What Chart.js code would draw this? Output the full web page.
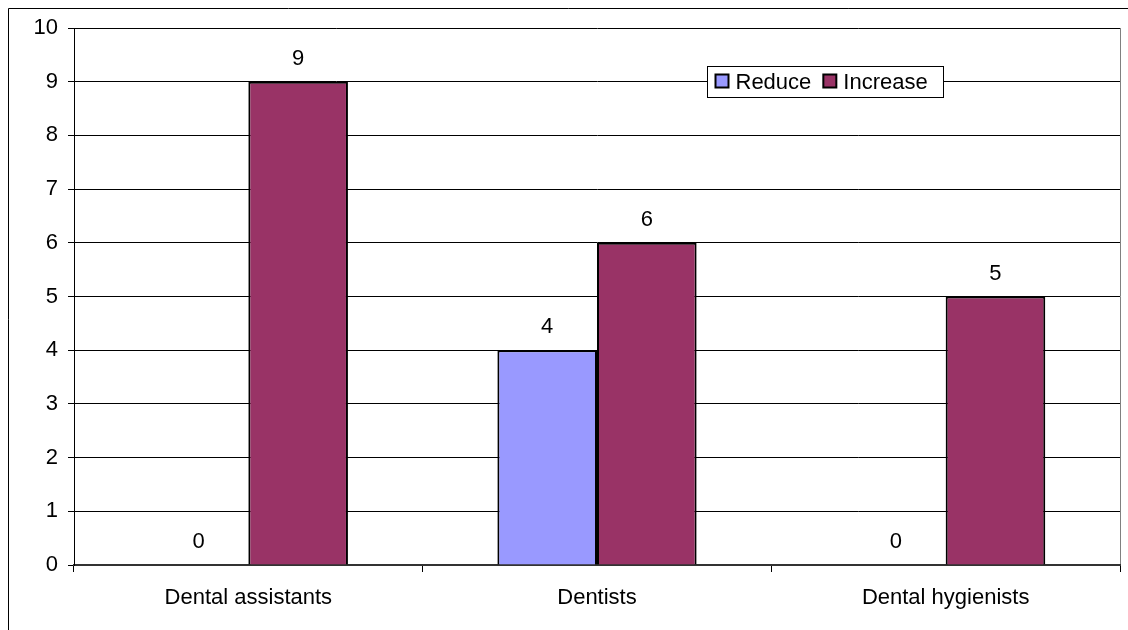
<!DOCTYPE html>
<html>
<head>
<meta charset="utf-8">
<script src="https://cdn.jsdelivr.net/npm/chart.js@4"></script>
<style>
  html, body { margin: 0; padding: 0; background: #fff; }
  #wrap { width: 1128px; height: 630px; position: relative; }
</style>
</head>
<body>
<div id="wrap"><canvas id="chart" width="1128" height="630"></canvas></div>
<script>
const categories = ["Dental assistants", "Dentists", "Dental hygienists"];
const reduceValues = [0, 4, 0];
const increaseValues = [9, 6, 5];
const seriesNames = ["Reduce", "Increase"];
const FONT = "'Liberation Sans', Arial, sans-serif";

// outer frame + plot area right border
const framePlugin = {
  id: "frame",
  beforeDraw(chart) {
    const c = chart.ctx, a = chart.chartArea;
    c.save();
    c.strokeStyle = "#000";
    c.lineWidth = 1;
    c.beginPath();
    c.moveTo(8.5, 640);
    c.lineTo(8.5, 8.5);
    c.lineTo(1140, 8.5);
    c.stroke();
    c.strokeStyle = "#808080";
    c.beginPath();
    c.moveTo(a.right + 0.5, a.top);
    c.lineTo(a.right + 0.5, a.bottom);
    c.stroke();
    c.restore();
  },
};

// value labels above bars
const valueLabels = {
  id: "valueLabels",
  afterDatasetsDraw(chart) {
    const c = chart.ctx;
    c.save();
    c.font = "22px " + FONT;
    c.fillStyle = "#000";
    c.textAlign = "center";
    c.textBaseline = "alphabetic";
    chart.data.datasets.forEach((ds, i) => {
      chart.getDatasetMeta(i).data.forEach((bar, j) => {
        c.fillText(String(ds.data[j]), bar.x, bar.y - 17);
      });
    });
    c.restore();
  },
};

// Excel-style legend box inside plot
const boxLegend = {
  id: "boxLegend",
  afterDraw(chart) {
    const c = chart.ctx;
    const x = 707.5, y = 66.5, w = 236, h = 31;
    c.save();
    c.fillStyle = "#fff";
    c.fillRect(x, y, w, h);
    c.strokeStyle = "#000";
    c.lineWidth = 1;
    c.strokeRect(x, y, w, h);
    c.font = "22px " + FONT;
    c.textBaseline = "middle";
    let px = x + 8;
    chart.data.datasets.forEach((ds) => {
      c.fillStyle = ds.backgroundColor;
      c.fillRect(px, y + 8, 13, 13);
      c.lineWidth = 2;
      c.strokeRect(px, y + 8, 13, 13);
      c.fillStyle = "#000";
      c.fillText(ds.label, px + 20, y + h / 2 + 1);
      px += 20 + c.measureText(ds.label).width + 12;
    });
    c.restore();
  },
};

new Chart(document.getElementById("chart"), {
  type: "bar",
  data: {
    labels: categories,
    datasets: [
      { label: seriesNames[0], data: reduceValues, backgroundColor: "#9999ff", borderColor: "#000", borderWidth: 2, borderSkipped: "bottom" },
      { label: seriesNames[1], data: increaseValues, backgroundColor: "#993366", borderColor: "#000", borderWidth: 2, borderSkipped: "bottom" },
    ],
  },
  options: {
    responsive: false,
    animation: false,
    layout: { padding: { top: 28, right: 8, left: 0, bottom: 0 } },
    datasets: { bar: { categoryPercentage: 2 / 3.5, barPercentage: 1 } },
    plugins: { legend: { display: false }, tooltip: { enabled: false } },
    scales: {
      x: {
        offset: true,
        grid: { offset: true, drawOnChartArea: false, drawTicks: true, tickLength: 7, color: "#000" },
        border: { color: "#333", width: 2 },
        ticks: { color: "#000", font: { family: FONT, size: 22 }, padding: 13 },
        afterFit(s) { s.height = 65; },
      },
      y: {
        min: 0, max: 10,
        ticks: { stepSize: 1, color: "#000", font: { family: FONT, size: 22 }, padding: 10 },
        grid: { color: "#000", tickLength: 6 },
        border: { color: "#000", width: 1 },
        afterFit(s) { s.width = 74; },
      },
    },
  },
  plugins: [framePlugin, valueLabels, boxLegend],
});
</script>
</body>
</html>
